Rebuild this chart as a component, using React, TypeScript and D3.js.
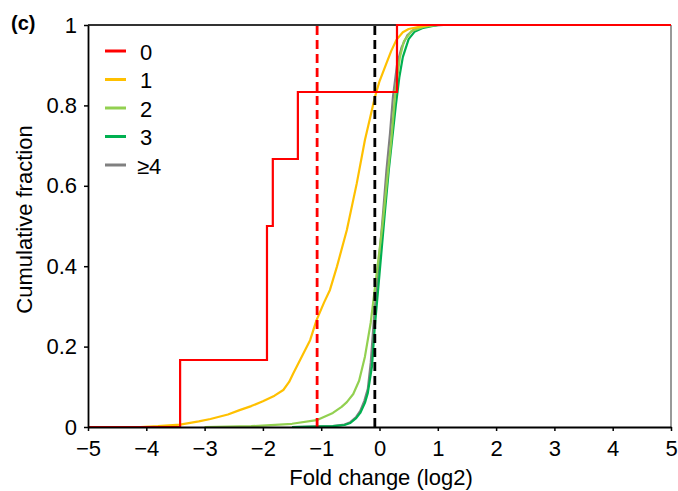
import React, { useEffect, useRef } from "react";
import * as d3 from "d3";

const W = 678;
const H = 491;

const seriesNames = ["0", "1", "2", "3", "\u22654"];
const seriesColors = ["#ff0000", "#ffc000", "#92d050", "#00b050", "#808080"];

// Series "0": six fold-change values (empirical CDF step function)
const redValues = [-3.42, -1.93, -1.93, -1.83, -1.4, 0.3];

const yellowCdf: [number, number][] = [
  [-4.1, 0], [-3.8, 0.002], [-3.42, 0.006], [-3.1, 0.014], [-2.9, 0.02], [-2.6, 0.031],
  [-2.4, 0.042], [-2.2, 0.052], [-2.0, 0.064], [-1.8, 0.078], [-1.65, 0.092], [-1.55, 0.112],
  [-1.48, 0.133], [-1.36, 0.167], [-1.19, 0.216], [-1.08, 0.266], [-0.95, 0.31], [-0.85, 0.341],
  [-0.73, 0.399], [-0.56, 0.49], [-0.39, 0.606], [-0.25, 0.714], [-0.16, 0.77], [-0.08, 0.82],
  [0.0, 0.86], [0.12, 0.905], [0.2, 0.935], [0.29, 0.963], [0.4, 0.982], [0.5, 0.99],
  [0.7, 0.996], [0.9, 1.0], [1.3, 1.0],
];

const lightGreenCdf: [number, number][] = [
  [-3.0, 0], [-2.2, 0.002], [-1.5, 0.008], [-1.08, 0.017], [-0.8, 0.035], [-0.65, 0.05],
  [-0.56, 0.062], [-0.45, 0.082], [-0.35, 0.115], [-0.25, 0.175], [-0.15, 0.26], [-0.05, 0.38],
  [0.05, 0.5], [0.12, 0.6], [0.2, 0.71], [0.27, 0.83], [0.35, 0.92], [0.42, 0.96], [0.55, 0.985],
  [0.75, 0.995], [1.0, 1.0], [1.4, 1.0],
];

const darkGreenCdf: [number, number][] = [
  [-1.5, 0], [-0.8, 0.002], [-0.6, 0.005], [-0.5, 0.01], [-0.4, 0.022], [-0.33, 0.035],
  [-0.25, 0.06], [-0.2, 0.085], [-0.13, 0.15], [-0.08, 0.25], [0.0, 0.38], [0.09, 0.53],
  [0.16, 0.64], [0.22, 0.72], [0.28, 0.8], [0.34, 0.87], [0.4, 0.92], [0.5, 0.965],
  [0.6, 0.983], [0.75, 0.993], [1.0, 1.0], [1.5, 1.0],
];

const grayCdf: [number, number][] = [
  [-1.5, 0], [-0.8, 0.002], [-0.6, 0.006], [-0.5, 0.012], [-0.4, 0.025], [-0.33, 0.04],
  [-0.26, 0.065], [-0.2, 0.095], [-0.15, 0.16], [-0.1, 0.26], [-0.03, 0.38], [0.06, 0.53],
  [0.12, 0.64], [0.18, 0.73], [0.23, 0.82], [0.3, 0.9], [0.38, 0.945], [0.48, 0.975],
  [0.6, 0.99], [0.8, 0.997], [1.1, 1.0], [1.7, 1.0],
];

const redMedianLine = -1.07;
const blackMedianLine = -0.08;

const xTicks = [-5, -4, -3, -2, -1, 0, 1, 2, 3, 4, 5];
const yTicks = [0, 0.2, 0.4, 0.6, 0.8, 1];

const FONT = "'Liberation Sans', Arial, Helvetica, sans-serif";

export default function App() {
  const ref = useRef<SVGSVGElement>(null);

  useEffect(() => {
    const svg = d3.select(ref.current);
    svg.selectAll("*").remove();

    const x = d3.scaleLinear().domain([-5, 5]).range([88, 671]);
    const y = d3.scaleLinear().domain([0, 1]).range([427, 25]);

    // frame: top and right
    svg.append("line").attr("x1", x(-5)).attr("x2", x(5)).attr("y1", y(1)).attr("y2", y(1))
      .attr("stroke", "#333").attr("stroke-width", 2);
    svg.append("line").attr("x1", x(5)).attr("x2", x(5)).attr("y1", y(1)).attr("y2", y(0))
      .attr("stroke", "#777").attr("stroke-width", 1.5);

    const line = d3.line<[number, number]>().x((d) => x(d[0])).y((d) => y(d[1]));

    const curves: [[number, number][], string][] = [
      [grayCdf, seriesColors[4]],
      [darkGreenCdf, seriesColors[3]],
      [lightGreenCdf, seriesColors[2]],
      [yellowCdf, seriesColors[1]],
    ];
    curves.forEach(([data, color]) => {
      svg.append("path").attr("d", line(data)).attr("fill", "none")
        .attr("stroke", color).attr("stroke-width", 2.2).attr("stroke-linejoin", "round");
    });

    // red step CDF
    const n = redValues.length;
    const redPts: [number, number][] = [[-5, 0]];
    redValues.forEach((v, i) => redPts.push([v, (i + 1) / n]));
    redPts.push([5, 1]);
    const stepLine = d3.line<[number, number]>().x((d) => x(d[0])).y((d) => y(d[1])).curve(d3.curveStepAfter);
    svg.append("path").attr("d", stepLine(redPts)).attr("fill", "none")
      .attr("stroke", seriesColors[0]).attr("stroke-width", 2.2);

    // dashed lines
    svg.append("line").attr("x1", x(redMedianLine)).attr("x2", x(redMedianLine))
      .attr("y1", y(0)).attr("y2", y(1)).attr("stroke", seriesColors[0])
      .attr("stroke-width", 2.8).attr("stroke-dasharray", "9,5");
    svg.append("line").attr("x1", x(blackMedianLine)).attr("x2", x(blackMedianLine))
      .attr("y1", y(0)).attr("y2", y(1)).attr("stroke", "#000")
      .attr("stroke-width", 2.8).attr("stroke-dasharray", "9,5");

    // axes
    const xAxis = d3.axisBottom(x).tickValues(xTicks).tickSize(4).tickSizeOuter(0).tickPadding(9)
      .tickFormat((d) => d3.format("d")(d as number));
    const gx = svg.append("g").attr("transform", `translate(0,${y(0)})`).call(xAxis);
    const yAxis = d3.axisLeft(y).tickValues(yTicks).tickSize(4).tickSizeOuter(0).tickPadding(7)
      .tickFormat((d) => ((d as number) === 0 || (d as number) === 1 ? String(d) : d3.format(".1f")(d as number)));
    const gy = svg.append("g").attr("transform", `translate(${x(-5)},0)`).call(yAxis);
    [gx, gy].forEach((g) => {
      g.select(".domain").attr("stroke", "#000").attr("stroke-width", 1.8);
      g.selectAll(".tick line").attr("stroke", "#000").attr("stroke-width", 1.5);
      g.selectAll(".tick text").attr("font-family", FONT).attr("font-size", 22).attr("fill", "#000");
    });

    // axis titles
    svg.append("text").attr("x", 381).attr("y", 485).attr("text-anchor", "middle")
      .attr("font-family", FONT).attr("font-size", 22).text("Fold change (log2)");
    svg.append("text").attr("transform", "translate(32,219.5) rotate(-90)").attr("text-anchor", "middle")
      .attr("font-family", FONT).attr("font-size", 22).text("Cumulative fraction");

    // panel label
    svg.append("text").attr("x", 11).attr("y", 30).attr("font-family", FONT)
      .attr("font-weight", "bold").attr("font-size", 20).text("(c)");

    // legend
    const legend = svg.append("g");
    seriesNames.forEach((name, i) => {
      const ly = 51 + i * 28.5;
      legend.append("line").attr("x1", 105).attr("x2", 126).attr("y1", ly).attr("y2", ly)
        .attr("stroke", seriesColors[i]).attr("stroke-width", 3);
      legend.append("text").attr("x", i === 4 ? 137 : 140).attr("y", ly + 8.5)
        .attr("font-family", FONT).attr("font-size", 22).text(name);
    });
  }, []);

  return (
    <svg ref={ref} width={W} height={H}
      style={{ position: "absolute", left: 0, top: 0, display: "block", background: "#fff" }} />
  );
}
